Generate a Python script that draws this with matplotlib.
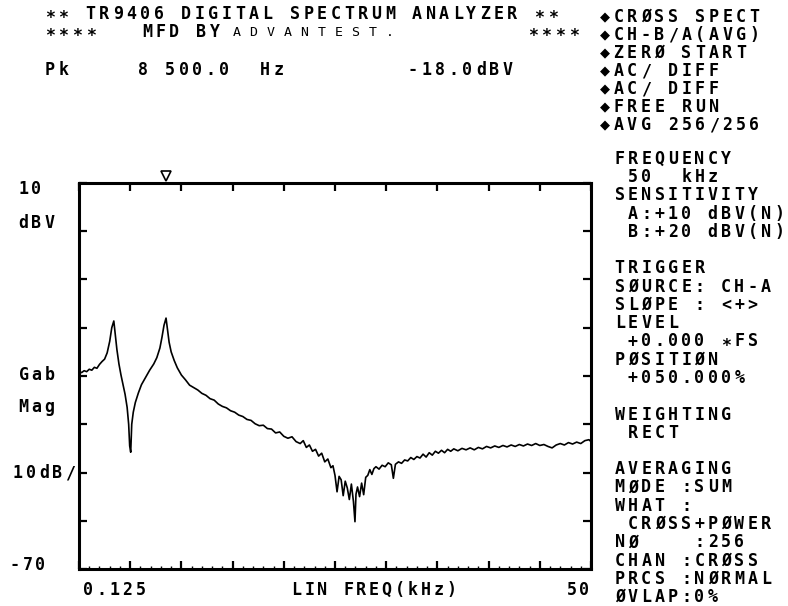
import matplotlib

matplotlib.use("Agg")
import matplotlib.pyplot as plt
from matplotlib.ticker import MultipleLocator

WIDTH_PX, HEIGHT_PX = 788, 606
FONT = ["DejaVu Sans Mono", "DejaVu Sans"]

# trace: frequency (kHz) and cross-spectrum magnitude (dBV)
freq_khz = [
    0.0, 0.25, 0.5, 0.75, 1.0, 1.25, 1.5, 1.75, 2.0, 2.25, 2.5, 2.75, 3.0, 3.2, 3.4,
    3.55, 3.7, 3.9, 4.1, 4.3, 4.5, 4.7, 4.85, 4.95, 5.05, 5.15, 5.3, 5.5, 5.8, 6.1,
    6.5, 6.9, 7.3, 7.6, 7.9, 8.1, 8.3, 8.5, 8.65, 8.8, 9.0, 9.3, 9.6, 10.0, 10.4,
    10.8, 11.2, 11.6, 12.0, 12.4, 12.8, 13.2, 13.6, 14.0, 14.4, 14.8, 15.2, 15.6,
    16.0, 16.4, 16.8, 17.2, 17.6, 18.0, 18.4, 18.8, 19.2, 19.6, 20.0, 20.4, 20.8,
    21.2, 21.6, 21.9, 22.2, 22.5, 22.8, 23.1, 23.4, 23.7, 24.0, 24.3, 24.6, 24.8,
    25.0, 25.2, 25.4, 25.6, 25.8, 26.0, 26.2, 26.4, 26.6, 26.8, 26.95, 27.05, 27.2,
    27.4, 27.6, 27.8, 28.0, 28.2, 28.4, 28.6, 28.8, 29.0, 29.3, 29.6, 29.9, 30.2,
    30.5, 30.7, 30.9, 31.2, 31.5, 31.8, 32.1, 32.4, 32.7, 33.0, 33.3, 33.6, 33.9,
    34.2, 34.5, 34.8, 35.1, 35.4, 35.7, 36.0, 36.3, 36.6, 37.0, 37.4, 37.8, 38.2,
    38.6, 39.0, 39.4, 39.8, 40.2, 40.6, 41.0, 41.4, 41.8, 42.2, 42.6, 43.0, 43.4,
    43.8, 44.2, 44.6, 45.0, 45.4, 45.8, 46.2, 46.6, 47.0, 47.4, 47.8, 48.2, 48.6,
    49.0, 49.4, 49.8, 50.0,
]
gab_mag_dbv = [
    -29.0, -29.3, -28.9, -29.1, -28.6, -28.8, -28.2, -28.4, -27.6, -27.0, -26.5,
    -25.2, -22.8, -20.0, -18.6, -21.5, -24.5, -27.5, -29.8, -31.8, -33.8, -36.5,
    -40.0, -44.5, -45.8, -40.0, -37.5, -35.5, -33.5, -31.8, -30.3, -28.8, -27.5,
    -26.2, -24.2, -22.0, -19.5, -18.0, -20.5, -23.0, -25.0, -26.8, -28.3, -29.8,
    -30.8, -31.9, -32.4, -32.9, -33.6, -34.0, -34.7, -35.0, -35.8, -36.3, -36.6,
    -37.2, -37.5, -38.1, -38.4, -39.0, -39.2, -39.9, -40.3, -40.2, -40.9, -41.0,
    -41.8, -41.6, -42.5, -42.9, -42.6, -43.6, -44.0, -43.4, -44.8, -44.3, -45.6,
    -45.2, -46.6, -46.0, -47.8, -47.2, -49.0, -48.6, -50.6, -54.0, -50.8, -51.5,
    -54.8, -51.8, -53.2, -55.6, -52.4, -56.0, -60.2, -54.5, -53.0, -55.0, -52.2,
    -54.6, -51.0, -50.6, -49.4, -50.4, -49.2, -48.8, -49.3, -48.5, -48.8, -48.0,
    -48.4, -51.2, -48.3, -47.8, -48.1, -47.4, -47.6, -46.9, -47.3, -46.7, -47.0,
    -46.2, -46.8, -45.9, -46.4, -45.6, -46.0, -45.4, -45.9, -45.2, -45.6, -45.1,
    -45.5, -45.0, -45.3, -44.9, -45.3, -44.8, -45.1, -44.6, -44.9, -44.5, -44.8,
    -44.4, -44.7, -44.3, -44.6, -44.2, -44.5, -44.1, -44.4, -44.0, -44.4, -44.2,
    -44.6, -44.9, -44.3, -44.0, -44.3, -43.8, -44.1, -43.7, -44.0, -43.4, -43.2,
    -43.6,
]
marker_khz = 8.5

header_title = "** TR9406 DIGITAL SPECTRUM ANALYZER **"
status_lines = [
    "\u25c6CR\u00d8SS SPECT",
    "\u25c6CH-B/A(AVG)",
    "\u25c6ZER\u00d8 START",
    "\u25c6AC/ DIFF",
    "\u25c6AC/ DIFF",
    "\u25c6FREE RUN",
    "\u25c6AVG 256/256",
]
setup_lines = [
    "FREQUENCY", " 50  kHz", "SENSITIVITY", " A:+10 dBV(N)", " B:+20 dBV(N)",
    "", "TRIGGER", "S\u00d8URCE: CH-A", "SL\u00d8PE : <+>", "LEVEL",
    " +0.000 *FS", "P\u00d8SITI\u00d8N", " +050.000%", "", "WEIGHTING", " RECT",
    "", "AVERAGING", "M\u00d8DE :SUM", "WHAT :", " CR\u00d8SS+P\u00d8WER",
    "N\u00d8    :256", "CHAN :CR\u00d8SS", "PRCS :N\u00d8RMAL", "\u00d8VLAP:0%",
]


def put(fig, x, y, text, pitch=13.6, size=12.0, weight="bold"):
    """픽셀 좌표(좌상단 기준)에 고정 폭으로 한 글자씩 찍는다."""
    for index, char in enumerate(text):
        if char == " ":
            continue
        # 프린터 글꼴의 별표는 글자 가운데 높이에 찍힌다
        shift = 4 if char == "*" else 0
        fig.text(
            (x + (index + 0.5) * pitch) / WIDTH_PX,
            1 - (y + shift) / HEIGHT_PX,
            char,
            ha="center",
            va="center",
            fontsize=size,
            fontweight=weight,
            family=FONT,
        )


figure = plt.figure(figsize=(WIDTH_PX / 100, HEIGHT_PX / 100), dpi=100)
axis = figure.add_axes(
    [79 / WIDTH_PX, 1 - 569 / HEIGHT_PX, 512 / WIDTH_PX, 386 / HEIGHT_PX]
)
axis.plot(freq_khz, gab_mag_dbv, color="black", linewidth=1.2)
axis.set_xlim(0, 50)
axis.set_ylim(-70, 10)
axis.xaxis.set_major_locator(MultipleLocator(5))
axis.xaxis.set_minor_locator(MultipleLocator(1))
axis.yaxis.set_major_locator(MultipleLocator(10))
axis.yaxis.set_minor_locator(MultipleLocator(100))
axis.tick_params(
    which="major", direction="in", length=6, width=1.6,
    top=True, right=True, labelbottom=False, labelleft=False,
)
axis.tick_params(which="minor", direction="in", length=2, width=1.0, bottom=True)
for spine in axis.spines.values():
    spine.set_linewidth(2.2)
axis.plot(
    [marker_khz], [1.018], marker="v", markersize=7, markerfacecolor="white",
    markeredgecolor="black", markeredgewidth=1.2,
    transform=axis.get_xaxis_transform(), clip_on=False,
)

# header
put(figure, 43, 14, header_title)
put(figure, 43, 32, "****")
put(figure, 140, 32, "MFD BY")
put(figure, 228, 33, "ADVANTEST.", pitch=17.0, size=9.5, weight="normal")
put(figure, 526, 32, "****")
put(figure, 43, 70, "Pk")
put(figure, 136, 70, "8 500.0  Hz")
put(figure, 406, 70, "-18.0dBV")

# right-hand settings panel
for index, line in enumerate(status_lines):
    put(figure, 598, 17 + 18 * index, line, pitch=13.6)
for index, line in enumerate(setup_lines):
    put(figure, 613, 159 + 18.25 * index, line, pitch=13.3)

# axis annotations
put(figure, 17, 189, "10", pitch=13.0)
put(figure, 17, 223, "dBV", pitch=13.0)
put(figure, 17, 375, "Gab", pitch=13.0)
put(figure, 17, 407, "Mag", pitch=13.0)
put(figure, 11, 473, "10dB/", pitch=13.2)
put(figure, 8, 565, "-70", pitch=13.0)
put(figure, 82, 590, "0.125", pitch=13.0)
put(figure, 290, 590, "LIN FREQ(kHz)", pitch=12.9)
put(figure, 565, 590, "50", pitch=13.0)

figure.savefig("out.png", dpi=100)
